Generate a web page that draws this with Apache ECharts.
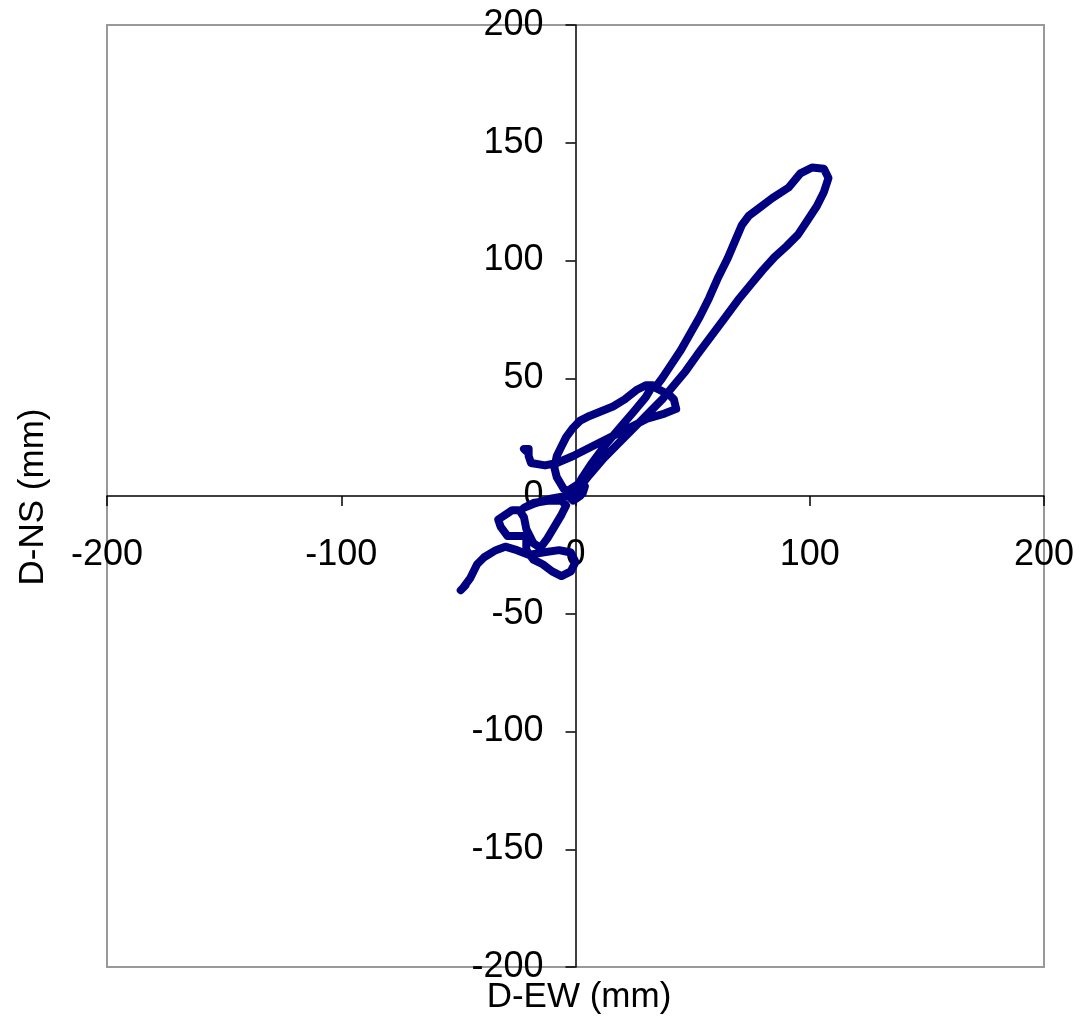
<!DOCTYPE html>
<html>
<head>
<meta charset="utf-8">
<title>D-NS vs D-EW</title>
<script src="https://cdn.jsdelivr.net/npm/echarts@6/dist/echarts.min.js"></script>
<style>
  html, body { margin: 0; padding: 0; background: #fff; }
  #main { width: 1080px; height: 1024px; }
</style>
</head>
<body>
<div id="main"></div>
<script>
// 位移轨迹 [D-EW, D-NS] (mm)
const tailLeg = [
  [-21, 19], [-22, 20], [-20, 20], [-20, 17], [-19, 14], [-13, 13], [-8, 14], [-1, 17],
  [7, 21], [15, 25], [23, 29], [31, 33], [38, 35], [43, 37], [42, 41], [40, 43], [34, 46]
];
const loopLeg = [
  [37, 50], [41, 56], [45, 62], [49, 69], [53, 76], [57, 84], [61, 93], [65, 101],
  [68, 108], [71, 115], [74, 119], [78, 122], [84, 126.5], [91, 131], [96, 137], [101, 139.5],
  [106, 139], [108, 135], [106, 129], [103, 123], [99, 117], [95, 111], [90, 106], [85, 101.5],
  [80, 96], [75, 90], [70, 84], [64, 76], [58, 68], [52, 60], [47, 53], [42, 47],
  [37, 41], [31, 35], [25, 29], [18, 22], [12, 16], [6, 9], [2, 4]
];
const arcLeg = [
  [0, 0], [3, 1], [4, 4], [1, 5], [-2, 3], [-3, 0], [-1, -2], [2, 0],
  [-5, 3], [-8, 8], [-9, 12], [-8, 17], [-6, 21], [-4, 25], [-1, 29], [2, 32],
  [6, 34], [11, 36], [16, 38], [21, 41], [26, 45], [30, 47], [33, 47],
  [30, 42], [25, 36], [19, 29], [13, 22], [7, 14], [3, 8], [0, 3], [-2, 0]
];
const lowerLeg = [
  [-4, 0], [-10, -1], [-17, -3], [-22, -5], [-18, -3], [-12, -2], [-6, -2], [-4, -4],
  [-6, -8], [-9, -13], [-12, -18], [-15, -22], [-18, -20], [-21, -14], [-22, -9], [-24, -6],
  [-27, -6], [-30, -8], [-33, -10], [-32, -13], [-29, -17], [-25, -17], [-21, -17], [-21, -23],
  [-18, -27], [-14, -29], [-10, -32], [-6, -34], [-2, -32], [0, -28], [-2, -24], [-7, -23],
  [-14, -24], [-20, -25], [-25, -23], [-30, -21.5], [-34, -23], [-39, -26], [-42, -29], [-45, -35],
  [-48, -39], [-47, -38], [-49, -40]
];

const orbit = tailLeg.concat(loopLeg, arcLeg, lowerLeg);

const font = "'Liberation Sans', Arial, sans-serif";

// 绘图区 (px)
const plotLeft = 107, plotTop = 25, plotW = 937, plotH = 942;

const chart = echarts.init(document.getElementById('main'));
chart.setOption({
  animation: false,
  backgroundColor: '#fff',
  grid: {
    left: plotLeft,
    top: plotTop,
    width: plotW,
    height: plotH,
    outerBoundsMode: 'none',
    containLabel: false,
    show: true,
    borderColor: '#999',
    borderWidth: 2
  },
  xAxis: {
    type: 'value',
    min: -200,
    max: 200,
    interval: 100,
    // 坐标轴移到 y=0 处
    offset: -plotH / 2,
    axisLine: { onZero: false, lineStyle: { color: '#000', width: 1.5 } },
    axisTick: { show: true, length: 10, lineStyle: { color: '#000', width: 1.5 } },
    axisLabel: {
      margin: 41,
      color: '#000',
      fontSize: 36,
      fontFamily: font,
      showMinLabel: true,
      showMaxLabel: true
    },
    splitLine: { show: false }
  },
  yAxis: {
    type: 'value',
    min: -200,
    max: 200,
    interval: 50,
    // 坐标轴移到 x=0 处
    offset: -plotW / 2,
    axisLine: { onZero: false, lineStyle: { color: '#000', width: 1.5 } },
    axisTick: { show: true, length: 10, lineStyle: { color: '#000', width: 1.5 } },
    axisLabel: {
      margin: 32,
      color: '#000',
      fontSize: 36,
      fontFamily: font,
      showMinLabel: true,
      showMaxLabel: true
    },
    splitLine: { show: false }
  },
  graphic: [
    {
      type: 'text',
      x: 579,
      y: 997,
      style: {
        text: 'D-EW (mm)',
        fill: '#000',
        font: '35px ' + font,
        textAlign: 'center',
        textVerticalAlign: 'middle'
      }
    },
    {
      type: 'text',
      x: 33,
      y: 497,
      rotation: Math.PI / 2,
      style: {
        text: 'D-NS (mm)',
        fill: '#000',
        font: '35px ' + font,
        textAlign: 'center',
        textVerticalAlign: 'middle'
      }
    }
  ],
  series: [{
    type: 'line',
    data: orbit,
    showSymbol: false,
    symbol: 'none',
    smooth: false,
    lineStyle: { color: '#000080', width: 8, cap: 'round', join: 'round' }
  }]
});
</script>
</body>
</html>
